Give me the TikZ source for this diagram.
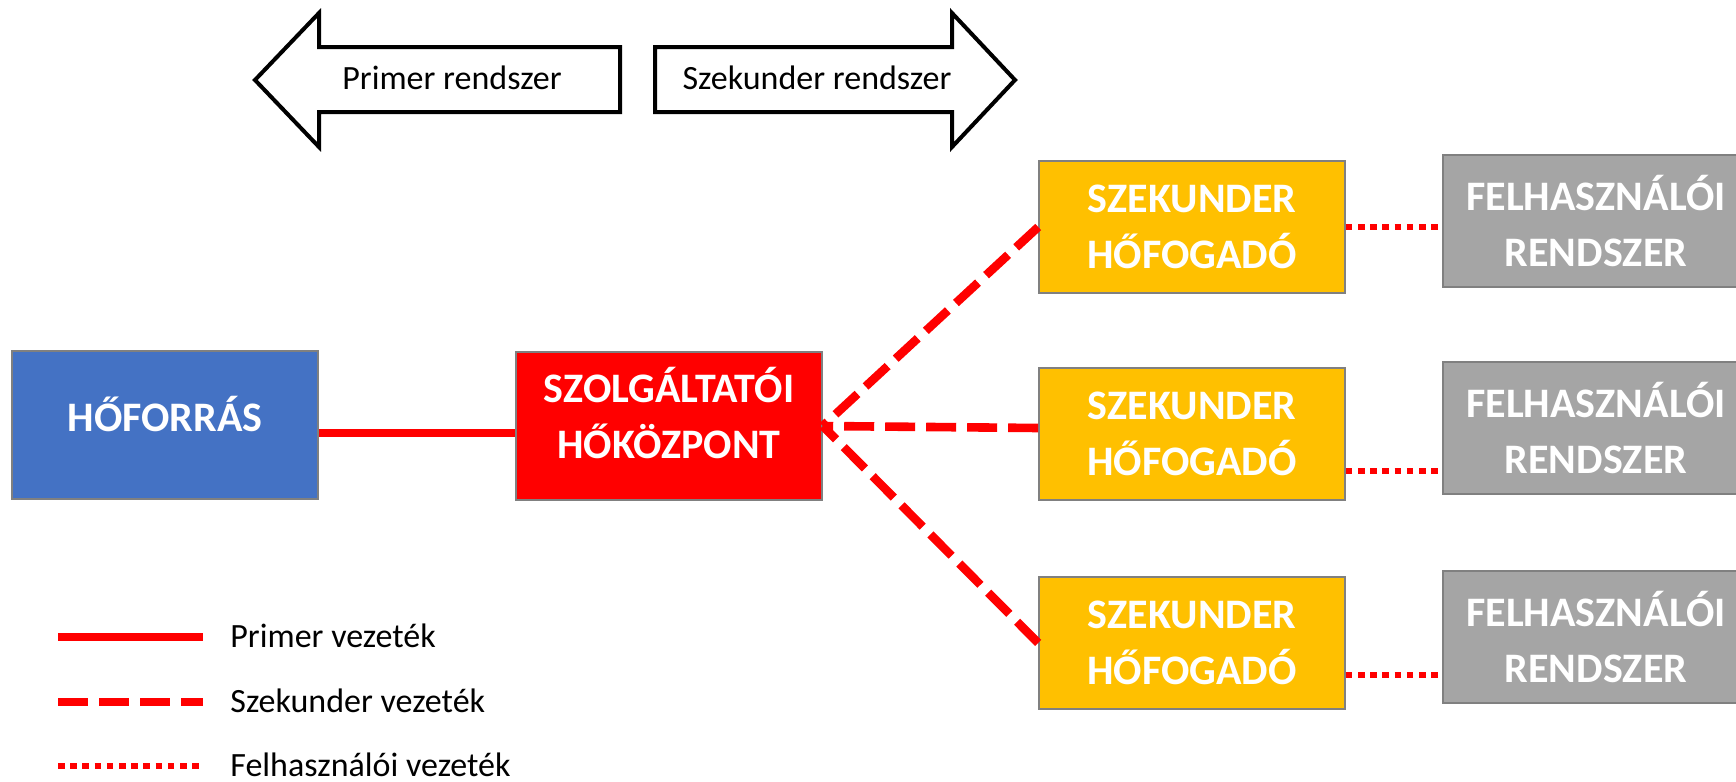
\documentclass[tikz,border=0pt]{standalone}
\usepackage{fontspec}
\setmainfont{Carlito}
\definecolor{hfblue}{HTML}{4472C4}
\definecolor{szred}{HTML}{FF0000}
\definecolor{fyellow}{HTML}{FFC000}
\definecolor{fgray}{HTML}{A5A5A5}
\definecolor{boxline}{HTML}{808080}
\begin{document}
\begin{tikzpicture}[x=0.5pt,y=-0.5pt,
  box/.style={draw=boxline, line width=0.8pt, minimum width=153pt, text=white,
    font=\bfseries\fontsize{21}{28}\selectfont, align=center, inner sep=0pt},
  tallbox/.style={box, minimum height=74pt},
  rowbox/.style={box, minimum height=66pt},
  primline/.style={draw=szred, line width=4.3pt},
  szekline/.style={draw=szred, line width=4.3pt, dash pattern=on 15pt off 5.5pt},
  felhline/.style={draw=szred, line width=3.3pt, dash pattern=on 3.3pt off 2.8pt},
  bigarrow/.style={draw=black, line width=2pt, fill=white, line join=miter},
  lbl/.style={font=\fontsize{17}{20}\selectfont, anchor=base, inner sep=0pt},
  leglbl/.style={lbl, anchor=base west},
  ]
\clip (0,0) rectangle (1736,782);
\fill[white] (0,0) rectangle (1736,782);

% big arrows
\draw[bigarrow] (255,80) -- (319,13) -- (319,47) -- (620,47) -- (620,112) -- (319,112) -- (319,147) -- cycle;
\draw[bigarrow] (655,47) -- (952,47) -- (952,13) -- (1015,80) -- (952,147) -- (952,112) -- (655,112) -- cycle;
\node[lbl] (primlbl) at (452,89) {Primer rendszer};
\node[lbl] (szeklbl) at (817,89) {Szekunder rendszer};

% boxes
\node[tallbox, fill=hfblue, text depth=11pt] (hf) at (165,425) {HŐFORRÁS};
\node[tallbox, fill=szred, text depth=13pt] (szk) at (669,426) {SZOLGÁLTATÓI\\HŐKÖZPONT};
\node[rowbox, fill=fyellow] (y1) at (1192,227) {SZEKUNDER\\HŐFOGADÓ};
\node[rowbox, fill=fyellow] (y2) at (1192,434) {SZEKUNDER\\HŐFOGADÓ};
\node[rowbox, fill=fyellow] (y3) at (1192,643) {SZEKUNDER\\HŐFOGADÓ};
\node[rowbox, fill=fgray] (g1) at (1596,221) {FELHASZNÁLÓI\\RENDSZER};
\node[rowbox, fill=fgray] (g2) at (1596,428) {FELHASZNÁLÓI\\RENDSZER};
\node[rowbox, fill=fgray] (g3) at (1596,637) {FELHASZNÁLÓI\\RENDSZER};

% connectors
\draw[primline] ([yshift=-4pt]hf.east) -- ([yshift=-4pt]hf.east -| szk.west);
\draw[szekline] (y1.west) -- (szk.east);
\draw[szekline] ([yshift=3pt]y2.west) -- (szk.east);
\draw[szekline] (y3.west) -- (szk.east);
\draw[felhline] (y1.east) -- (y1.east -| g1.west);
\draw[felhline] ([yshift=-18.5pt]y2.east) -- ([yshift=-18.5pt]y2.east -| g2.west);
\draw[felhline] ([yshift=-16pt]y3.east) -- ([yshift=-16pt]y3.east -| g3.west);

% legend
\coordinate (l1a) at (58,637); \coordinate (l1b) at (203,637);
\coordinate (l2a) at (58,702); \coordinate (l2b) at (203,702);
\coordinate (l3a) at (58,766); \coordinate (l3b) at (203,766);
\draw[primline] (l1a) -- (l1b);
\draw[szekline] (l2a) -- (l2b);
\draw[felhline] (l3a) -- (l3b);
\node[leglbl] (lt1) at (230,647) {Primer vezeték};
\node[leglbl] (lt2) at (230,712) {Szekunder vezeték};
\node[leglbl] (lt3) at (230,776) {Felhasználói vezeték};
\end{tikzpicture}
\end{document}
